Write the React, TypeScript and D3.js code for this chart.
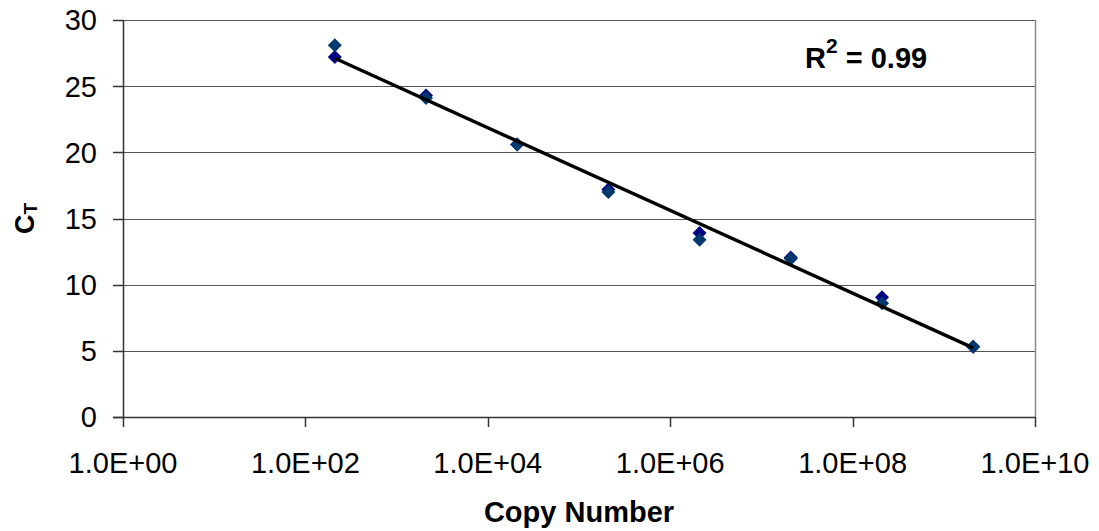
import React from "react";
import * as d3 from "d3";

// Data
const copyNumbers = [2.1e2, 2.1e3, 2.1e4, 2.1e5, 2.1e6, 2.1e7, 2.1e8, 2.1e9];
const ctSeriesA = [27.2, 24.3, 20.6, 17.2, 13.9, 12.05, 9.05, 5.3];
const ctSeriesB = [28.1, 24.1, 20.6, 17.0, 13.4, 11.95, 8.6, 5.3];
const xTickValues = [1e0, 1e2, 1e4, 1e6, 1e8, 1e10];
const xTickLabels = ["1.0E+00", "1.0E+02", "1.0E+04", "1.0E+06", "1.0E+08", "1.0E+10"];
const yTickValues = [0, 5, 10, 15, 20, 25, 30];
const r2Label = "0.99";

const W = 1099;
const H = 531;
const left = 123;
const right = 1035;
const top = 20;
const bottom = 417;
const FONT = "'Liberation Sans', Arial, sans-serif";

export default function App() {
  const x = d3.scaleLog().domain([1, 1e10]).range([left, right]);
  const y = d3.scaleLinear().domain([0, 30]).range([bottom, top]);

  // linear regression in log space
  const pts: [number, number][] = [];
  copyNumbers.forEach((c, i) => {
    pts.push([Math.log10(c), ctSeriesA[i]]);
    pts.push([Math.log10(c), ctSeriesB[i]]);
  });
  const mx = d3.mean(pts, (p) => p[0]) as number;
  const my = d3.mean(pts, (p) => p[1]) as number;
  const sxy = d3.sum(pts, (p) => (p[0] - mx) * (p[1] - my));
  const sxx = d3.sum(pts, (p) => (p[0] - mx) ** 2);
  const slope = sxy / sxx;
  const intercept = my - slope * mx;
  const x0 = d3.min(copyNumbers) as number;
  const x1 = d3.max(copyNumbers) as number;
  const fitPts: [number, number][] = [x0, x1].map((c) => [
    x(c),
    y(intercept + slope * Math.log10(c)),
  ]);
  const line = d3.line();

  const diamond = (cx: number, cy: number, r = 7) =>
    `M${cx},${cy - r}L${cx + r},${cy}L${cx},${cy + r}L${cx - r},${cy}Z`;

  return (
    <svg
      width={W}
      height={H}
      style={{ position: "absolute", left: 0, top: 0, background: "#fff" }}
      fontFamily={FONT}
    >
      {/* gridlines */}
      {yTickValues.filter((v) => v > 0).map((v) => (
        <line
          key={"g" + v}
          x1={left}
          x2={right}
          y1={Math.round(y(v)) + 0.5}
          y2={Math.round(y(v)) + 0.5}
          stroke="#555"
          strokeWidth={1}
        />
      ))}
      {/* right border */}
      <line x1={right + 0.5} x2={right + 0.5} y1={top} y2={bottom} stroke="#888" strokeWidth={1.5} />
      {/* axes */}
      <line x1={left + 0.5} x2={left + 0.5} y1={top} y2={bottom + 1} stroke="#333" strokeWidth={1.5} />
      <line x1={left - 10} x2={right} y1={bottom + 0.5} y2={bottom + 0.5} stroke="#333" strokeWidth={1.5} />
      {/* y ticks */}
      {yTickValues.map((v) => (
        <g key={"y" + v}>
          <line x1={left - 10} x2={left} y1={Math.round(y(v)) + 0.5} y2={Math.round(y(v)) + 0.5} stroke="#333" strokeWidth={1.5} />
          <text x={97} y={y(v)} dy="0.36em" textAnchor="end" fontSize={29} fill="#000">
            {v}
          </text>
        </g>
      ))}
      {/* x ticks */}
      {xTickValues.map((v, i) => (
        <g key={"x" + i}>
          <line x1={Math.round(x(v)) + 0.5} x2={Math.round(x(v)) + 0.5} y1={bottom} y2={bottom + 10} stroke="#333" strokeWidth={1.5} />
          <text x={x(v)} y={473} textAnchor="middle" fontSize={29} fill="#000">
            {xTickLabels[i]}
          </text>
        </g>
      ))}
      {/* axis titles */}
      <text x={579} y={522} textAnchor="middle" fontSize={29} fontWeight="bold" fill="#000">
        Copy Number
      </text>
      <text
        transform={`translate(34,${(top + bottom) / 2}) rotate(-90)`}
        textAnchor="middle"
        fontSize={27}
        fontWeight="bold"
        fill="#000"
      >
        C<tspan fontSize={19} dy={3}>T</tspan>
      </text>
      {/* markers */}
      {copyNumbers.map((c, i) => (
        <path key={"a" + i} d={diamond(x(c), y(ctSeriesA[i]))} fill="#000080" />
      ))}
      {copyNumbers.map((c, i) => (
        <path key={"b" + i} d={diamond(x(c), y(ctSeriesB[i]))} fill="#003870" />
      ))}
      {/* trend line */}
      <path d={line(fitPts) as string} fill="none" stroke="#000" strokeWidth={3.4} />
      {/* R2 label */}
      <text x={805} y={68} fontSize={29} fontWeight="bold" fill="#000">
        R<tspan fontSize={21} dy={-15}>2</tspan>
        <tspan dy={15}>{" = " + r2Label}</tspan>
      </text>
    </svg>
  );
}
